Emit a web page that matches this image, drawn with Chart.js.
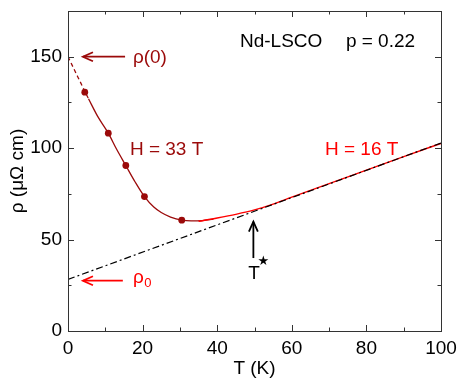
<!DOCTYPE html>
<html><head><meta charset="utf-8">
<script src="https://cdn.jsdelivr.net/npm/chart.js@4/dist/chart.umd.min.js"></script>
<style>html,body{margin:0;padding:0;background:#fff}#wrap{width:464px;height:386px;position:relative}</style>
</head><body><div id="wrap"><canvas id="c" width="464" height="386"></canvas></div>
<script>
// measured points, H = 33 T
const measuredT   = [4.5, 10.8, 15.5, 20.5, 30.5];
const measuredRho = [130.6, 108.2, 90.5, 73.5, 60.6];
// extrapolation to T = 0 (dashed)
const extrapT   = [0, 2.5, 5.5];
const extrapRho = [150, 139.5, 127];
// fit curve H = 33 T
const fit33T   = [5.5, 8, 10.8, 13, 15.5, 18, 20.5, 23, 25, 27.5, 30.5, 33, 36, 39];
const fit33Rho = [127, 117.2, 108.2, 99.5, 90.5, 81.5, 73.5, 67.8, 64.8, 62.3, 60.6, 60.2, 60.4, 61.2];
// data H = 16 T
const fit16T   = [35, 40, 45, 50, 55, 60, 70, 80, 90, 100];
const fit16Rho = [60.0, 61.8, 63.8, 66.2, 69.4, 73.2, 80.6, 88.0, 95.4, 102.6];
// linear T fit
const linT   = [0, 100];
const linRho = [28.2, 102.8];
// ticks
const xMajorTicks = [0, 20, 40, 60, 80, 100];
const xMinorTicks = [10, 30, 50, 70, 90];
const yMajorTicks = [0, 50, 100, 150];
const yMinorTicks = [25, 75, 125, 175];

const DARK = '#9b0a0a';
const RED = '#ff0000';
const FONT = "'Liberation Sans', Arial, sans-serif";

const pts = (xs, ys) => xs.map((x, i) => ({x: x, y: ys[i]}));

function arrow(ctx, x1, y1, x2, y2, color) {
  const ang = Math.atan2(y2 - y1, x2 - x1);
  const L = 11, a = 0.42;
  ctx.save();
  ctx.strokeStyle = color; ctx.lineWidth = 1.8; ctx.lineCap = 'butt';
  ctx.beginPath(); ctx.moveTo(x1, y1); ctx.lineTo(x2, y2); ctx.stroke();
  ctx.beginPath();
  ctx.moveTo(x2 - L * Math.cos(ang - a), y2 - L * Math.sin(ang - a));
  ctx.lineTo(x2, y2);
  ctx.lineTo(x2 - L * Math.cos(ang + a), y2 - L * Math.sin(ang + a));
  ctx.stroke();
  ctx.restore();
}

const decor = {
  id: 'decor',
  afterDatasetsDraw(chart) {
    const ctx = chart.ctx, xs = chart.scales.x, ys = chart.scales.y;
    const X = v => xs.getPixelForValue(v), Y = v => ys.getPixelForValue(v);
    const ca = chart.chartArea;
    ctx.save();
    // frame
    ctx.strokeStyle = '#333'; ctx.lineWidth = 1;
    ctx.strokeRect(Math.round(ca.left) + 0.5, Math.round(ca.top) + 0.5,
                   Math.round(ca.right - ca.left), Math.round(ca.bottom - ca.top));
    // ticks
    const tick = (vals, len, horiz) => {
      vals.forEach(v => {
        if (horiz) {
          const p = Math.round(X(v)) + 0.5;
          ctx.beginPath(); ctx.moveTo(p, ca.bottom); ctx.lineTo(p, ca.bottom - len); ctx.stroke();
          ctx.beginPath(); ctx.moveTo(p, ca.top); ctx.lineTo(p, ca.top + len); ctx.stroke();
        } else {
          const p = Math.round(Y(v)) + 0.5;
          ctx.beginPath(); ctx.moveTo(ca.left, p); ctx.lineTo(ca.left + len, p); ctx.stroke();
          ctx.beginPath(); ctx.moveTo(ca.right, p); ctx.lineTo(ca.right - len, p); ctx.stroke();
        }
      });
    };
    tick(xMajorTicks, 6, true); tick(xMinorTicks, 3.5, true);
    tick(yMajorTicks, 6, false); tick(yMinorTicks, 3.5, false);

    // arrows
    arrow(ctx, X(15.3), Y(150), X(4.0), Y(150), DARK);
    arrow(ctx, X(14.7), Y(27.5), X(4.0), Y(27.5), RED);
    arrow(ctx, X(49.7), Y(39.9), X(49.7), Y(59.8), '#000');

    // texts
    ctx.textBaseline = 'alphabetic'; ctx.textAlign = 'left';
    ctx.font = '19px ' + FONT;
    ctx.fillStyle = DARK;
    ctx.fillText('\u03c1(0)', X(17.4), Y(146.6));
    ctx.fillText('H = 33 T', X(16.6), Y(96.2));
    ctx.fillStyle = RED;
    ctx.fillText('H = 16 T', X(68.9), Y(96.2));
    ctx.fillText('\u03c1', X(17.4), Y(26.2));
    const rw = ctx.measureText('\u03c1').width;
    ctx.font = '13px ' + FONT;
    ctx.fillText('0', X(17.4) + rw + 0.5, Y(26.2) + 4);
    ctx.font = '19px ' + FONT;
    ctx.fillStyle = '#000';
    ctx.fillText('Nd-LSCO', X(46.1), Y(155.3));
    ctx.fillText('p = 0.22', X(74.5), Y(155.3));
    ctx.textAlign = 'center';
    ctx.fillText('T', X(49.9), Y(28.4));
    ctx.font = "13px 'DejaVu Sans', sans-serif";
    ctx.textBaseline = 'middle';
    ctx.fillText('\u2605', X(52.4), Y(37.9));
    ctx.restore();
  }
};

new Chart(document.getElementById('c'), {
  type: 'scatter',
  data: {
    datasets: [
      { data: pts(linT, linRho), showLine: true, borderColor: '#000', borderWidth: 1.2,
        borderDash: [7, 3, 2, 3], pointRadius: 0, fill: false },
      { data: pts(fit16T, fit16Rho), showLine: true, borderColor: RED, borderWidth: 1.4,
        pointRadius: 0, cubicInterpolationMode: 'monotone', fill: false },
      { data: pts(extrapT, extrapRho), showLine: true, borderColor: DARK, borderWidth: 1.3,
        borderDash: [4, 3], pointRadius: 0, cubicInterpolationMode: 'monotone', fill: false },
      { data: pts(fit33T, fit33Rho), showLine: true, borderColor: DARK, borderWidth: 1.3,
        pointRadius: 0, cubicInterpolationMode: 'monotone', fill: false },
      { data: pts(measuredT, measuredRho), showLine: false, backgroundColor: DARK,
        borderColor: DARK, pointRadius: 3.4, borderWidth: 0 }
    ]
  },
  options: {
    responsive: false,
    animation: false,
    devicePixelRatio: 1,
    layout: { padding: { top: 11, right: 23, left: 0, bottom: 0 } },
    plugins: { legend: { display: false }, tooltip: { enabled: false } },
    scales: {
      x: {
        type: 'linear', min: 0, max: 100,
        afterBuildTicks: s => { s.ticks = xMajorTicks.map(v => ({value: v})); },
        afterFit: s => { s.height = 55; s.paddingLeft = 0; s.paddingRight = 0; },
        grid: { display: false, drawTicks: false },
        border: { display: false },
        ticks: { color: '#000', padding: 6, maxRotation: 0, font: { family: FONT, size: 19 } },
        title: { display: true, text: 'T (K)', color: '#000', padding: { top: 0, bottom: 6 },
                 font: { family: FONT, size: 19 } }
      },
      y: {
        type: 'linear', min: 0, max: 175,
        afterBuildTicks: s => { s.ticks = yMajorTicks.map(v => ({value: v})); },
        afterFit: s => { s.width = 68; s.paddingTop = 0; s.paddingBottom = 0; },
        grid: { display: false, drawTicks: false },
        border: { display: false },
        ticks: { color: '#000', padding: 6, font: { family: FONT, size: 19 } },
        title: { display: true, text: '\u03c1 (\u03bc\u03a9 cm)', color: '#000', padding: { top: 6, bottom: 0 },
                 font: { family: FONT, size: 19 } }
      }
    }
  },
  plugins: [decor]
});
</script>
</body></html>
